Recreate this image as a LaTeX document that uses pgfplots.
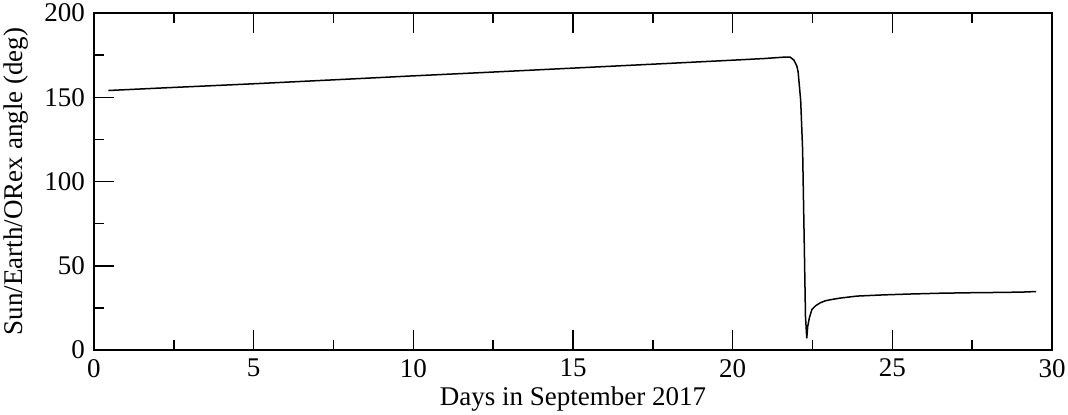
\documentclass[border=0pt]{standalone}
\usepackage{pgfplots}
\pgfplotsset{compat=1.18}
\usepackage{fontspec}
\setmainfont{Liberation Serif}
\begin{document}
\fontsize{13pt}{15pt}\selectfont
\begin{tikzpicture}
\begin{axis}[name=ax,
  scale only axis, width=479pt, height=168.5pt,
  xmin=0, xmax=30, ymin=0, ymax=200,
  xtick={0,5,...,30}, ytick={0,50,...,200},
  minor xtick={2.5,7.5,...,27.5}, minor ytick={25,75,...,175},
  tick align=inside, ytick pos=left,
  major tick length=10pt, minor tick length=5pt,
  every tick/.style={black, line width=0.75pt},
  axis line style={line width=0.75pt},
  /pgf/number format/assume math mode=true,
  ticklabel style={font=\fontsize{13.5pt}{15pt}\selectfont},
  label style={font=\fontsize{13.5pt}{15pt}\selectfont},
  xlabel={Days in September 2017},
  ylabel={Sun/Earth/ORex angle (deg)},
  xlabel style={yshift=4pt},
  ylabel style={yshift=-1pt},
]
\addplot[black, line width=0.75pt] coordinates {
(0.45,154.0) (2,155.4) (5,158.0) (8,160.8) (10,162.7) (12,164.5) (15,167.3)
(18,170.1) (20,172.0) (21,173.0) (21.6,173.8) (21.8,173.8) (21.92,172)
(22.01,168.5) (22.05,165) (22.13,148) (22.19,119) (22.24,65) (22.28,20)
(22.32,7) (22.35,14) (22.4,19) (22.48,24)
(22.6,26.3) (22.74,28) (22.9,29.2) (23.05,29.8) (23.36,30.8) (23.89,32)
(24.7,32.7) (25.5,33.2) (26.5,33.7) (27.5,34.0) (28.5,34.2) (29.1,34.4) (29.5,34.7)
};
\end{axis}
\pgfresetboundingbox
\useasboundingbox ([shift={(-47pt,-32pt)}]ax.south west) rectangle ([shift={(8pt,6.5pt)}]ax.north east);
\end{tikzpicture}
\end{document}
